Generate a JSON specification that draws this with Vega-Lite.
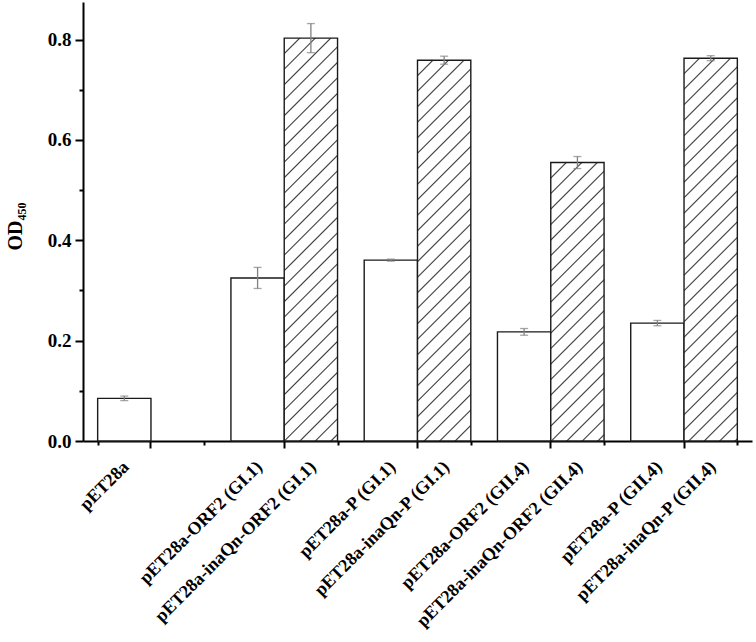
{
  "$schema": "https://vega.github.io/schema/vega-lite/v6.json",
  "autosize": "none",
  "width": 669,
  "height": 439,
  "padding": {"left": 83, "top": 2, "right": 4, "bottom": 201},
  "config": {
    "view": {"stroke": null},
    "axis": {"domainColor": "#000", "tickColor": "#000", "labelColor": "#000", "titleColor": "#000", "grid": false, "tickOpacity": 1}
  },
  "params": [
    {"name": "hatch", "value": [
      {"offset":0,"color":"#fff"},
      {"offset":0.0301,"color":"#fff"},{"offset":0.0333,"color":"#333"},{"offset":0.0365,"color":"#fff"},
      {"offset":0.0635,"color":"#fff"},{"offset":0.0667,"color":"#333"},{"offset":0.0699,"color":"#fff"},
      {"offset":0.0968,"color":"#fff"},{"offset":0.1,"color":"#333"},{"offset":0.1032,"color":"#fff"},
      {"offset":0.1301,"color":"#fff"},{"offset":0.1333,"color":"#333"},{"offset":0.1365,"color":"#fff"},
      {"offset":0.1635,"color":"#fff"},{"offset":0.1667,"color":"#333"},{"offset":0.1699,"color":"#fff"},
      {"offset":0.1968,"color":"#fff"},{"offset":0.2,"color":"#333"},{"offset":0.2032,"color":"#fff"},
      {"offset":0.2301,"color":"#fff"},{"offset":0.2333,"color":"#333"},{"offset":0.2365,"color":"#fff"},
      {"offset":0.2635,"color":"#fff"},{"offset":0.2667,"color":"#333"},{"offset":0.2699,"color":"#fff"},
      {"offset":0.2968,"color":"#fff"},{"offset":0.3,"color":"#333"},{"offset":0.3032,"color":"#fff"},
      {"offset":0.3301,"color":"#fff"},{"offset":0.3333,"color":"#333"},{"offset":0.3365,"color":"#fff"},
      {"offset":0.3635,"color":"#fff"},{"offset":0.3667,"color":"#333"},{"offset":0.3699,"color":"#fff"},
      {"offset":0.3968,"color":"#fff"},{"offset":0.4,"color":"#333"},{"offset":0.4032,"color":"#fff"},
      {"offset":0.4301,"color":"#fff"},{"offset":0.4333,"color":"#333"},{"offset":0.4365,"color":"#fff"},
      {"offset":0.4635,"color":"#fff"},{"offset":0.4667,"color":"#333"},{"offset":0.4699,"color":"#fff"},
      {"offset":0.4968,"color":"#fff"},{"offset":0.5,"color":"#333"},{"offset":0.5032,"color":"#fff"},
      {"offset":0.5301,"color":"#fff"},{"offset":0.5333,"color":"#333"},{"offset":0.5365,"color":"#fff"},
      {"offset":0.5635,"color":"#fff"},{"offset":0.5667,"color":"#333"},{"offset":0.5699,"color":"#fff"},
      {"offset":0.5968,"color":"#fff"},{"offset":0.6,"color":"#333"},{"offset":0.6032,"color":"#fff"},
      {"offset":0.6301,"color":"#fff"},{"offset":0.6333,"color":"#333"},{"offset":0.6365,"color":"#fff"},
      {"offset":0.6635,"color":"#fff"},{"offset":0.6667,"color":"#333"},{"offset":0.6699,"color":"#fff"},
      {"offset":0.6968,"color":"#fff"},{"offset":0.7,"color":"#333"},{"offset":0.7032,"color":"#fff"},
      {"offset":0.7301,"color":"#fff"},{"offset":0.7333,"color":"#333"},{"offset":0.7365,"color":"#fff"},
      {"offset":0.7635,"color":"#fff"},{"offset":0.7667,"color":"#333"},{"offset":0.7699,"color":"#fff"},
      {"offset":0.7968,"color":"#fff"},{"offset":0.8,"color":"#333"},{"offset":0.8032,"color":"#fff"},
      {"offset":0.8301,"color":"#fff"},{"offset":0.8333,"color":"#333"},{"offset":0.8365,"color":"#fff"},
      {"offset":0.8635,"color":"#fff"},{"offset":0.8667,"color":"#333"},{"offset":0.8699,"color":"#fff"},
      {"offset":0.8968,"color":"#fff"},{"offset":0.9,"color":"#333"},{"offset":0.9032,"color":"#fff"},
      {"offset":0.9301,"color":"#fff"},{"offset":0.9333,"color":"#333"},{"offset":0.9365,"color":"#fff"},
      {"offset":0.9635,"color":"#fff"},{"offset":0.9667,"color":"#333"},{"offset":0.9699,"color":"#fff"},
      {"offset":1,"color":"#fff"}
    ]}
  ],
  "data": {"values": [
    {"group": "pET28a", "kind": "plain", "od": 0.085, "err": 0.0045},
    {"group": "ORF2 (GI.1)", "kind": "plain", "od": 0.325, "err": 0.021},
    {"group": "ORF2 (GI.1)", "kind": "inaQn", "od": 0.803, "err": 0.029},
    {"group": "P (GI.1)", "kind": "plain", "od": 0.3605, "err": 0.002},
    {"group": "P (GI.1)", "kind": "inaQn", "od": 0.759, "err": 0.008},
    {"group": "ORF2 (GII.4)", "kind": "plain", "od": 0.2175, "err": 0.0067},
    {"group": "ORF2 (GII.4)", "kind": "inaQn", "od": 0.555, "err": 0.012},
    {"group": "P (GII.4)", "kind": "plain", "od": 0.235, "err": 0.0053},
    {"group": "P (GII.4)", "kind": "inaQn", "od": 0.763, "err": 0.005}
  ]},
  "resolve": {"axis": {"x": "independent", "y": "independent"}},
  "layer": [
    {
      "mark": {
        "type": "bar",
        "stroke": "#1a1a1a",
        "strokeWidth": 1.4,
        "fill": {"expr": "datum.kind == 'inaQn' ? {gradient: 'linear', x1: 0, y1: 0, x2: 465*53.31/(53.31*53.31 + pow(scale('y', 0) - scale('y', datum.od), 2)), y2: 465*(scale('y', 0) - scale('y', datum.od))/(53.31*53.31 + pow(scale('y', 0) - scale('y', datum.od), 2)), stops: hatch} : '#ffffff'"}
      },
      "encoding": {
        "x": {"field": "group", "type": "nominal", "sort": null,
          "scale": {"paddingInner": 0.2, "paddingOuter": 0.11},
          "axis": {"orient": "bottom", "title": null, "ticks": true, "tickSize": 7, "tickWidth": 2, "domainWidth": 2,
            "labelExpr": "datum.value == 'pET28a' ? 'pET28a' : 'pET28a-' + datum.value",
            "labelAngle": -45, "labelAlign": "right", "labelBaseline": "middle",
            "labelOffset": -24.6, "labelPadding": 16,
            "labelFont": "Liberation Serif", "labelFontWeight": "bold", "labelFontSize": 18, "labelOverlap": false, "labelBound": false, "labelFlush": false, "labelLimit": 0}},
        "xOffset": {"field": "kind", "type": "nominal", "scale": {"domain": ["plain", "inaQn"], "paddingInner": 0, "paddingOuter": 0}},
        "y": {"field": "od", "type": "quantitative", "title": "OD₄₅₀",
          "scale": {"domain": [0, 0.875], "nice": false, "zero": true},
          "axis": {
            "orient": "left",
            "titleFont": "Liberation Serif", "titleFontWeight": "bold", "titleFontSize": 20,
            "titleAngle": 270, "titleX": -62, "titleY": 224, "titleAlign": "center", "titleBaseline": "alphabetic",
            "values": [0, 0.2, 0.4, 0.6, 0.8], "format": ".1f",
            "labelFont": "Liberation Serif", "labelFontWeight": "bold", "labelFontSize": 19, "labelPadding": 4,
            "tickSize": 8, "tickWidth": 2, "domainWidth": 2
          }}
      }
    },
    {
      "mark": {"type": "errorbar", "ticks": {"size": 8, "color": "#808080", "thickness": 1.3}, "rule": {"color": "#808080", "strokeWidth": 1.3}},
      "encoding": {
        "x": {"field": "group", "type": "nominal", "sort": null,
          "axis": {"orient": "bottom", "title": null, "ticks": true, "tickBand": "extent", "tickSize": 4, "tickWidth": 2, "domain": false,
            "labelExpr": "!isValid(datum.value) || datum.value == 'pET28a' ? '' : 'pET28a-inaQn-' + datum.value",
            "labelAngle": -45, "labelAlign": "right", "labelBaseline": "middle",
            "labelOffset": 28.7, "labelPadding": 19,
            "labelFont": "Liberation Serif", "labelFontWeight": "bold", "labelFontSize": 18, "labelOverlap": false, "labelBound": false, "labelFlush": false, "labelLimit": 0}},
        "xOffset": {"field": "kind", "type": "nominal"},
        "y": {"field": "od", "type": "quantitative", "title": null,
          "axis": {"orient": "left", "values": [0.1, 0.3, 0.5, 0.7], "labels": false, "domain": false, "tickSize": 4, "tickWidth": 2}},
        "yError": {"field": "err"}
      }
    }
  ]
}
